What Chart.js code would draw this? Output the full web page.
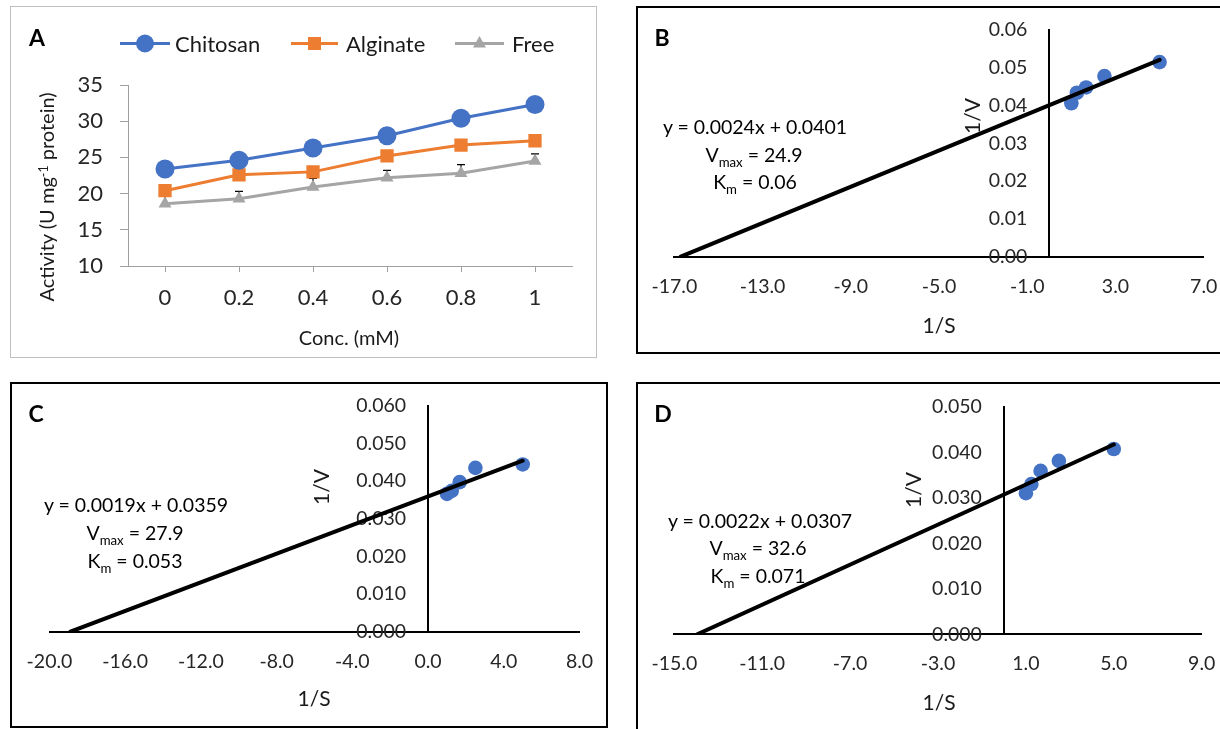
<!DOCTYPE html>
<html>
<head>
<meta charset="utf-8">
<script src="https://cdn.jsdelivr.net/npm/chart.js@4.4.1/dist/chart.umd.min.js"></script>
<style>
  body { margin: 0; background: #fff; }
  #page { position: relative; width: 1220px; height: 729px; overflow: hidden; font-family: Lato, sans-serif; }
  canvas { position: absolute; left: 0; top: 0; }
  .box { position: absolute; box-sizing: border-box; }
  .txt { position: absolute; white-space: nowrap; line-height: 1; color: #1a1a1a; transform: translate(-50%, -50%); z-index: 5; }
  .rot { transform: translate(-50%, -50%) rotate(-90deg); }
  .lbl { position: absolute; white-space: nowrap; line-height: 1; color: #1a1a1a; transform: translateY(-50%); font-size: 22px; z-index: 5; }
  .panel { font-weight: bold; font-size: 23px; color: #000; }
  .eq { font-size: 19.5px; color: #000; }
  .sub { font-size: 0.68em; position: relative; top: 0.38em; }
  .sup { font-size: 0.62em; position: relative; top: -0.45em; }
  svg { position: absolute; left: 0; top: 0; z-index: 4; }
</style>
</head>
<body>
<div id="page">
  <div class="box" style="left:10px;top:6px;width:587px;height:352px;border:1px solid #bfbfbf"></div>
  <div class="box" style="left:636px;top:6px;width:600px;height:348px;border:2px solid #000"></div>
  <div class="box" style="left:10px;top:382px;width:598px;height:346px;border:2px solid #000"></div>
  <div class="box" style="left:636px;top:382px;width:600px;height:360px;border:2px solid #000"></div>

  <canvas id="chartA" width="1220" height="729"></canvas>
  <canvas id="chartB" width="1220" height="729"></canvas>
  <canvas id="chartC" width="1220" height="729"></canvas>
  <canvas id="chartD" width="1220" height="729"></canvas>

  <!-- legend swatches for A -->
  <svg width="1220" height="80">
    <line x1="120" y1="43.5" x2="170" y2="43.5" stroke="#4472C4" stroke-width="3"/>
    <circle cx="145" cy="43.5" r="9" fill="#4472C4"/>
    <line x1="291" y1="43.5" x2="338" y2="43.5" stroke="#ED7D31" stroke-width="3"/>
    <rect x="308" y="37" width="13" height="13" fill="#ED7D31"/>
    <line x1="455" y1="43.5" x2="504" y2="43.5" stroke="#A5A5A5" stroke-width="3"/>
    <polygon points="479.5,36 486,47.5 473,47.5" fill="#A5A5A5"/>
  </svg>
  <div class="lbl" style="left:175px;top:44px">Chitosan</div>
  <div class="lbl" style="left:346px;top:44px">Alginate</div>
  <div class="lbl" style="left:512px;top:44px">Free</div>

  <div class="txt panel" style="left:37px;top:37px">A</div>
  <div class="txt rot" style="left:46px;top:197px;font-size:20px">Activity (U mg<span class="sup">-1</span> protein)</div>
  <div class="txt" style="left:349px;top:337px;font-size:20px">Conc. (mM)</div>

  <div class="txt panel" style="left:662px;top:37px">B</div>
  <div class="txt rot" style="left:971px;top:116px;font-size:21px">1/V</div>
  <div class="txt" style="left:939px;top:324px;font-size:21px">1/S</div>
  <div class="txt eq" style="left:755px;top:127px">y = 0.0024x + 0.0401</div>
  <div class="txt eq" style="left:754px;top:155px">V<span class="sub">max</span> = 24.9</div>
  <div class="txt eq" style="left:755px;top:182px">K<span class="sub">m</span> = 0.06</div>

  <div class="txt panel" style="left:36px;top:413px">C</div>
  <div class="txt rot" style="left:320px;top:487px;font-size:21px">1/V</div>
  <div class="txt" style="left:314px;top:697px;font-size:21px">1/S</div>
  <div class="txt eq" style="left:136px;top:505px">y = 0.0019x + 0.0359</div>
  <div class="txt eq" style="left:135px;top:533px">V<span class="sub">max</span> = 27.9</div>
  <div class="txt eq" style="left:135px;top:561px">K<span class="sub">m</span> = 0.053</div>

  <div class="txt panel" style="left:663px;top:413px">D</div>
  <div class="txt rot" style="left:912px;top:490px;font-size:21px">1/V</div>
  <div class="txt" style="left:939px;top:701px;font-size:21px">1/S</div>
  <div class="txt eq" style="left:760px;top:521px">y = 0.0022x + 0.0307</div>
  <div class="txt eq" style="left:758px;top:548px">V<span class="sub">max</span> = 32.6</div>
  <div class="txt eq" style="left:758px;top:576px">K<span class="sub">m</span> = 0.071</div>
</div>

<script>
// Panel A: activity vs concentration
const concLabels = ['0', '0.2', '0.4', '0.6', '0.8', '1'];
const chitosan = [23.4, 24.6, 26.3, 28.0, 30.4, 32.3];
const alginate = [20.4, 22.6, 23.0, 25.2, 26.7, 27.3];
const free = [18.6, 19.3, 20.9, 22.2, 22.8, 24.5];
const freeErr = [1.1, 1.0, 1.2, 1.0, 1.2, 1.0];
const yTicksA = [10, 15, 20, 25, 30, 35];

// Panels B-D: Lineweaver-Burk plots
const invS = [1, 1.25, 1.67, 2.5, 5];
const invVB = [0.0406, 0.0434, 0.0448, 0.0478, 0.0515];
const invVC = [0.0366, 0.0374, 0.0397, 0.0435, 0.0444];
const invVD = [0.0310, 0.0330, 0.0359, 0.0381, 0.0407];
const fitB = [0.0024, 0.0401]; // slope, intercept
const fitC = [0.0019, 0.0359];
const fitD = [0.0022, 0.0307];
const xTicksB = [-17, -13, -9, -5, -1, 3, 7];
const xTicksC = [-20, -16, -12, -8, -4, 0, 4, 8];
const xTicksD = [-15, -11, -7, -3, 1, 5, 9];
const yTicksB = [0, 0.01, 0.02, 0.03, 0.04, 0.05, 0.06];
const yTicksC = [0, 0.01, 0.02, 0.03, 0.04, 0.05, 0.06];
const yTicksD = [0, 0.01, 0.02, 0.03, 0.04, 0.05];

Chart.defaults.font.family = 'Lato';
Chart.defaults.color = '#262626';

const W = 1220, H = 729;
const axisGray = '#a0a0a0';

function setTicks(list) {
    return scale => { scale.ticks = list.map(v => ({ value: v })); };
}

// plus-direction error bars for the Free series, drawn under the markers
const errorBars = {
    id: 'errorBars',
    beforeDatasetsDraw(chart) {
        const meta = chart.getDatasetMeta(2);
        const ys = chart.scales.y;
        const ctx = chart.ctx;
        ctx.save();
        ctx.strokeStyle = '#000';
        ctx.lineWidth = 1.2;
        meta.data.forEach((pt, i) => {
            const top = ys.getPixelForValue(free[i] + freeErr[i]);
            ctx.beginPath();
            ctx.moveTo(pt.x, pt.y); ctx.lineTo(pt.x, top);
            ctx.moveTo(pt.x - 4, top); ctx.lineTo(pt.x + 4, top);
            ctx.stroke();
        });
        ctx.restore();
    }
};

// labels of axes placed at a value sit right on the line; move them off it
const shiftLabels = {
    id: 'shiftLabels',
    afterLayout(chart, args, opts) {
        chart.scales.y.getLabelItems().forEach(it => { it.options.translation[0] -= opts.gapY; });
        chart.scales.x.getLabelItems().forEach(it => { it.options.translation[1] += opts.gapX; });
    }
};

new Chart(document.getElementById('chartA'), {
    type: 'line',
    data: {
        labels: concLabels,
        datasets: [
            { label: 'Chitosan', data: chitosan, borderColor: '#4472C4', backgroundColor: '#4472C4',
              borderWidth: 3, pointStyle: 'circle', pointRadius: 9.5, pointBorderWidth: 0 },
            { label: 'Alginate', data: alginate, borderColor: '#ED7D31', backgroundColor: '#ED7D31',
              borderWidth: 3, pointStyle: 'rect', pointRadius: 9.4, pointBorderWidth: 0 },
            { label: 'Free', data: free, borderColor: '#A5A5A5', backgroundColor: '#A5A5A5',
              borderWidth: 3, pointStyle: 'triangle', pointRadius: 7.5, pointBorderWidth: 0 }
        ]
    },
    options: {
        responsive: false,
        animation: false,
        devicePixelRatio: 1,
        layout: { padding: { left: 128 - 60, right: W - 572, top: 85, bottom: H - 266 - 60 } },
        plugins: { legend: { display: false }, tooltip: { enabled: false } },
        scales: {
            x: {
                offset: true,
                grid: { offset: false, drawOnChartArea: false, tickLength: 6, color: axisGray },
                border: { color: axisGray, width: 1 },
                ticks: { padding: 13, font: { size: 22 } },
                afterFit: s => { s.height = 60; }
            },
            y: {
                min: 10, max: 35,
                afterBuildTicks: setTicks(yTicksA),
                grid: { drawOnChartArea: false, tickLength: 8, color: axisGray },
                border: { color: axisGray, width: 1 },
                ticks: { padding: 17, font: { size: 22 } },
                afterFit: s => { s.width = 60; }
            }
        }
    },
    plugins: [errorBars]
});

function makeLB(id, area, xTicks, yTicks, digits, invV, fit) {
    const x0 = -fit[1] / fit[0];
    const xEnd = invS[invS.length - 1];
    new Chart(document.getElementById(id), {
        type: 'scatter',
        data: {
            datasets: [
                { type: 'line', data: [{ x: x0, y: 0 }, { x: xEnd, y: fit[0] * xEnd + fit[1] }],
                  borderColor: '#000', borderWidth: 4, pointRadius: 0, borderCapStyle: 'round' },
                { data: invS.map((x, i) => ({ x: x, y: invV[i] })),
                  backgroundColor: '#4472C4', pointRadius: 7.3, pointBorderWidth: 0 }
            ]
        },
        options: {
            responsive: false,
            animation: false,
            devicePixelRatio: 1,
            layout: { padding: { left: area[0], right: W - area[1], top: area[2], bottom: H - area[3] } },
            plugins: { legend: { display: false }, tooltip: { enabled: false }, shiftLabels: { gapY: 22, gapX: 18 } },
            scales: {
                x: {
                    type: 'linear',
                    position: { y: 0 },
                    min: xTicks[0], max: xTicks[xTicks.length - 1],
                    afterBuildTicks: setTicks(xTicks),
                    grid: { drawOnChartArea: false, drawTicks: false },
                    border: { color: '#000', width: 2 },
                    ticks: { padding: 0, font: { size: 19.5 }, callback: v => v.toFixed(1) }
                },
                y: {
                    type: 'linear',
                    position: { x: 0 },
                    min: yTicks[0], max: yTicks[yTicks.length - 1],
                    afterBuildTicks: setTicks(yTicks),
                    grid: { drawOnChartArea: false, drawTicks: false },
                    border: { color: '#000', width: 2 },
                    ticks: { padding: 0, font: { size: 19.5 }, callback: v => v.toFixed(digits) }
                }
            }
        },
        plugins: [shiftLabels]
    });
}

makeLB('chartB', [674.3, 1203.7, 30, 256.7], xTicksB, yTicksB, 2, invVB, fitB);
makeLB('chartC', [49.5, 579.5, 405.7, 631.7], xTicksC, yTicksC, 3, invVC, fitC);
makeLB('chartD', [674.3, 1201.7, 406.7, 634.3], xTicksD, yTicksD, 3, invVD, fitD);
</script>
</body>
</html>
